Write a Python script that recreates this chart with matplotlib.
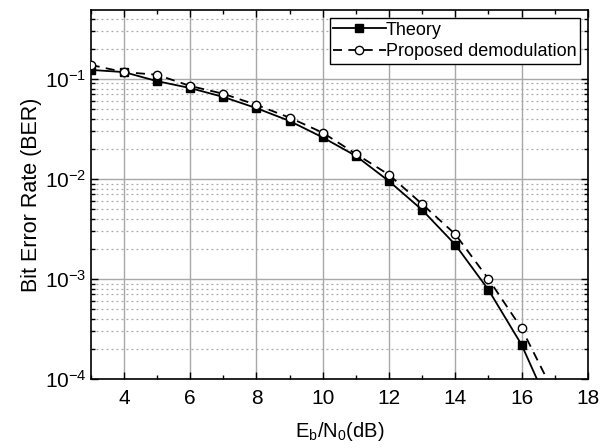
import numpy as np
import matplotlib.pyplot as plt
from matplotlib.ticker import MultipleLocator, LogLocator, NullFormatter

plt.rcParams['font.family'] = ['Liberation Sans', 'DejaVu Sans']
plt.rcParams['mathtext.fontset'] = 'custom'
plt.rcParams['mathtext.rm'] = 'Liberation Sans'
plt.rcParams['mathtext.it'] = 'Liberation Sans:italic'

# Eb/N0 (dB) at the markers
ebn0 = [3, 4, 5, 6, 7, 8, 9, 10, 11, 12, 13, 14, 15, 16]
ber_theory = [0.123, 0.117, 0.095, 0.081, 0.066, 0.051, 0.038, 0.026,
              0.017, 0.0095, 0.0049, 0.0022, 0.00078, 0.00022]
ber_proposed = [0.138, 0.117, 0.110, 0.085, 0.071, 0.055, 0.041, 0.029,
                0.0178, 0.011, 0.0056, 0.0028, 0.0010, 0.00032]

# curves run a little past the last marker
ebn0_tail = 17
ber_theory_tail = 4.0e-5
ber_proposed_tail = 7.0e-5

fig = plt.figure(figsize=(6.13, 4.48), dpi=100)
ax = fig.add_axes([0.148, 0.154, 0.811, 0.824])

x_line = ebn0 + [ebn0_tail]
n = len(ebn0)
ax.plot(x_line, ber_theory + [ber_theory_tail], color='black', lw=1.3,
        marker='s', markersize=5.5, markerfacecolor='black',
        markevery=list(range(n)), label='Theory', zorder=3)
ax.plot(x_line, ber_proposed + [ber_proposed_tail], color='black', lw=1.3,
        ls=(0, (5, 3.5)), marker='o', markersize=6, markerfacecolor='white',
        markeredgewidth=1.0, markevery=list(range(n)),
        label='Proposed demodulation', zorder=4)

ax.set_yscale('log')
ax.set_xlim(3, 18)
ax.set_ylim(1e-4, 0.49)

ax.xaxis.set_major_locator(MultipleLocator(2))
ax.xaxis.set_minor_locator(MultipleLocator(1))
ax.yaxis.set_major_locator(LogLocator(base=10, numticks=10))
ax.yaxis.set_minor_locator(LogLocator(base=10, subs=np.arange(2, 10), numticks=10))
ax.yaxis.set_minor_formatter(NullFormatter())

ax.grid(True, which='major', color='#a8a8a8', lw=1.0, ls='-')
ax.grid(True, which='minor', axis='y', color='#a8a8a8', lw=0.9, ls=(0, (1.5, 2.5)))
ax.set_axisbelow(True)

ax.tick_params(which='both', direction='in', top=True, right=True, labelsize=15,
               width=1.0)
ax.tick_params(which='major', length=5)
ax.tick_params(which='minor', length=3)
ax.tick_params(axis='x', pad=7)
ax.tick_params(axis='y', pad=3)
for sp in ax.spines.values():
    sp.set_linewidth(1.2)

ax.set_xlabel('E$_\\mathrm{b}$/N$_\\mathrm{0}$(dB)', fontsize=14.5, labelpad=9)
ax.set_ylabel('Bit Error Rate (BER)', fontsize=15.5, labelpad=2)

leg = ax.legend(loc='upper right', fontsize=13, frameon=True, fancybox=False,
                handlelength=2.9, handletextpad=0.0, borderpad=0.2,
                labelspacing=0.25, borderaxespad=0.45, framealpha=1)
leg.get_frame().set_edgecolor('black')
leg.get_frame().set_linewidth(1.0)

fig.savefig('out.png', dpi=100)
